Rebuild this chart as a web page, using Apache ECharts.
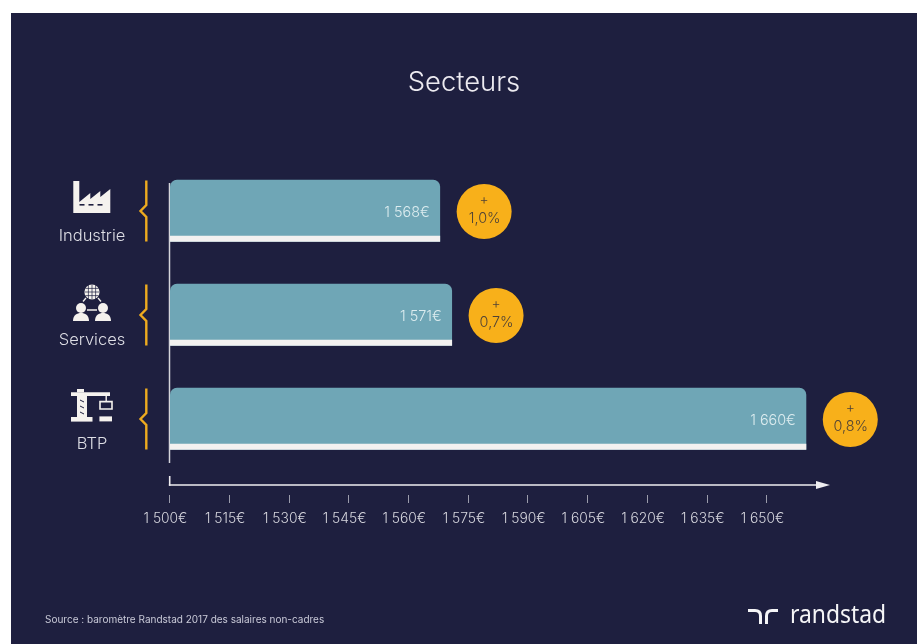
<!DOCTYPE html>
<html><head><meta charset="utf-8">
<style>
html,body{margin:0;padding:0;background:#fff;width:917px;height:644px;overflow:hidden}
#bg{position:absolute;left:11px;top:13px;width:906px;height:631px;background:#1e1f3f}
#c{position:absolute;left:0;top:0;width:917px;height:644px}
</style>
<script src="https://cdn.jsdelivr.net/npm/echarts@6/dist/echarts.min.js"></script>
</head><body><div id="bg"></div><div id="c"></div>
<script>
const categories = ['Industrie', 'Services', 'BTP'];
const salaries = [1568, 1571, 1660];
const growth = ['1,0%', '0,7%', '0,8%'];
const tickValues = [1500, 1515, 1530, 1545, 1560, 1575, 1590, 1605, 1620, 1635, 1650];

const FONT = 'Inter, "Noto Sans", sans-serif';
const NAVY = '#1e1f3f', TEAL = '#6fa6b6', BASE = '#f3f1f0', GOLD = '#f8b01a', ICON = '#f5f2ee';
const euro = v => { const s = String(v); return s.slice(0, 1) + ' ' + s.slice(1) + '€'; };

const r = (x, y, w, h, fill) => ({ type: 'rect', shape: { x, y, width: w, height: h }, style: { fill: fill || ICON } });
const c = (cx, cy, rad, style) => ({ type: 'circle', shape: { cx, cy, r: rad }, style: style || { fill: ICON } });
const p = (d, x, y, w, h, style) => ({ type: 'path', shape: { pathData: d, x, y, width: w, height: h }, style: style || { fill: ICON } });
const l = (x1, y1, x2, y2, col, w) => ({ type: 'line', shape: { x1, y1, x2, y2 }, style: { stroke: col || ICON, lineWidth: w || 1 } });

const factoryIcon = () => [
  p('M0 0 H6 V21 L17 12 V18 L27 10 V16 L37 8 V32 H0 Z', -18.7, -30, 37, 32),
  r(-12.5, -7, 5, 1.6, NAVY), r(-3.5, -7, 5, 1.6, NAVY), r(5.5, -7, 5, 1.6, NAVY)
];
const person = cx => [
  c(cx, -7, 5),
  p('M0 8 C0 2 4 0 8 0 C12 0 16 2 16 8 Z', cx - 8, -2, 16, 8)
];
const servicesIcon = () => [
  c(0, -23, 7.6),
  l(-7.4, -23, 7.4, -23, NAVY, 0.7), l(-6.6, -26.6, 6.6, -26.6, NAVY, 0.7), l(-6.6, -19.4, 6.6, -19.4, NAVY, 0.7),
  l(0, -30.4, 0, -15.6, NAVY, 0.7), l(-3.6, -30, -3.6, -16, NAVY, 0.7), l(3.6, -30, 3.6, -16, NAVY, 0.7),
  l(-5, -5, 5, -5, ICON, 1.5),
  l(-6, -17, -9, -13.5, ICON, 1.3), l(6, -17, 9, -13.5, ICON, 1.3),
  ...person(-11), ...person(11)
];
const btpIcon = () => [
  r(-15, -30, 7, 3.4),
  r(-21, -26.8, 39, 3.8),
  r(-15, -23, 10, 21),
  l(-12, -19, -8, -17, NAVY, 1), l(-12, -13, -8, -11, NAVY, 1), l(-12, -7, -8, -5, NAVY, 1),
  r(-21, -2, 21.5, 4.6),
  r(13.5, -23, 1.4, 6),
  { type: 'rect', shape: { x: 8, y: -17.4, width: 12, height: 7.4 }, style: { fill: 'none', stroke: ICON, lineWidth: 1.6 } },
  r(7.4, -2.6, 12.6, 5)
];
const icons = { Industrie: factoryIcon, Services: servicesIcon, BTP: btpIcon };

function renderBar(params, api) {
  const i = params.dataIndex;
  const end = api.coord([api.value(0), i]);
  const start = api.coord([1500, i]);
  const h = api.size([0, 1])[1] * 0.596;
  const top = end[1] - h / 2 - 0.2;
  const x0 = start[0] + 0.5, w = end[0] - x0;
  const cx = end[0] + 44;
  return {
    type: 'group',
    children: [
      { type: 'rect', shape: { x: x0, y: top, width: w, height: h, r: [7, 7, 0, 0] }, style: { fill: TEAL } },
      { type: 'rect', shape: { x: x0, y: top + h - 6, width: w, height: 6 }, style: { fill: BASE } },
      { type: 'text', x: end[0] - 10.5, y: end[1] + 1.5, style: { text: euro(api.value(0)), fill: '#dcecef', font: '300 14.4px ' + FONT, textAlign: 'right', textVerticalAlign: 'middle' } },
      { type: 'circle', shape: { cx, cy: end[1] + 0.5, r: 27.5 }, style: { fill: GOLD } },
      { type: 'text', x: cx, y: end[1] - 11, style: { text: '+', fill: '#4f4236', font: '300 14px ' + FONT, textAlign: 'center', textVerticalAlign: 'middle' } },
      { type: 'text', x: cx + 0.5, y: end[1] + 7.5, style: { text: growth[i], fill: '#4f4236', font: '300 14.4px ' + FONT, textAlign: 'center', textVerticalAlign: 'middle' } }
    ]
  };
}
function renderIcon(params, api) {
  const i = params.dataIndex;
  const pt = api.coord([1500, i]);
  return {
    type: 'group',
    children: [
      { type: 'group', x: pt[0] - 77.5, y: pt[1], children: icons[categories[i]]() },
      { type: 'polyline', x: pt[0], y: pt[1], shape: { points: [[-23.2, -30.5], [-23.2, -6], [-29, 0], [-23.2, 6], [-23.2, 30.5]] }, style: { fill: 'none', stroke: '#eeab1f', lineWidth: 2.4 } }
    ]
  };
}

const logoStyle = { fill: 'none', stroke: '#f5f5f7', lineWidth: 3 };
const chart = echarts.init(document.getElementById('c'), null, { renderer: 'canvas' });
const gLeft = 169.5, gTop = 159, gBottom = 471;
chart.setOption({
  animation: false,
  backgroundColor: 'transparent',
  grid: { left: gLeft, top: gTop, right: 94, bottom: 644 - gBottom, containLabel: false },
  xAxis: [
    { type: 'value', min: 1500, max: 1664.2, interval: 15, position: 'bottom', offset: 24, splitLine: { show: false },
      axisLine: { show: false },
      axisTick: { show: true, length: 8, lineStyle: { color: '#9b9cab', width: 1 }, customValues: tickValues },
      axisLabel: { margin: 17, color: '#d6d6de', fontFamily: FONT, fontWeight: 300, fontSize: 13.8, padding: [0, 8, 0, 0], customValues: tickValues, formatter: euro } },
    { type: 'value', min: 1500, max: 1664.2, interval: 15, position: 'bottom', offset: 14, splitLine: { show: false },
      axisLine: { show: true, symbol: ['none', 'triangle'], symbolSize: [8, 14], lineStyle: { color: '#eeedf0', width: 1.6 } },
      axisTick: { show: false }, axisLabel: { show: false } }
  ],
  yAxis: { type: 'category', data: categories, inverse: true, axisLine: { show: false }, axisTick: { show: false }, splitLine: { show: false },
    axisLabel: { margin: 77.5, align: 'center', verticalAlign: 'top', color: '#dfdfe6', fontFamily: FONT, fontWeight: 300, fontSize: 16.5, padding: [17, 0, 0, 0] } },
  series: [
    { type: 'custom', coordinateSystem: 'cartesian2d', xAxisIndex: 0, clip: false, renderItem: renderBar, encode: { x: 0, y: 1 },
      data: salaries.map((v, i) => [v, i]) },
    { type: 'custom', coordinateSystem: 'cartesian2d', xAxisIndex: 0, clip: false, renderItem: renderIcon, encode: { x: 0, y: 1 },
      data: salaries.map((v, i) => [v, i]), silent: true }
  ],
  graphic: [
    { type: 'text', x: 464, y: 83, style: { text: 'Secteurs', fill: '#eceaf0', font: '300 27.4px ' + FONT, textAlign: 'center', textVerticalAlign: 'middle' } },
    { type: 'line', shape: { x1: 169.5, y1: 183, x2: 169.5, y2: 463 }, style: { stroke: '#d4d4da', lineWidth: 1.5 } },
    { type: 'line', shape: { x1: 169.7, y1: 476, x2: 169.7, y2: 485.8 }, style: { stroke: '#eeedf0', lineWidth: 1.6 } },
    { type: 'text', x: 45, y: 620, style: { text: 'Source : baromètre Randstad 2017 des salaires non-cadres', fill: '#c9cad8', font: '400 10px ' + FONT, textVerticalAlign: 'middle' } },
    { type: 'line', shape: { x1: 748, y1: 610.5, x2: 755, y2: 610.5 }, style: logoStyle },
    { type: 'bezierCurve', shape: { x1: 755, y1: 610.5, cpx1: 760.5, cpy1: 610.5, x2: 760.5, y2: 616 }, style: logoStyle },
    { type: 'line', shape: { x1: 760.5, y1: 616, x2: 760.5, y2: 624 }, style: logoStyle },
    { type: 'line', shape: { x1: 766.5, y1: 624, x2: 766.5, y2: 616 }, style: logoStyle },
    { type: 'bezierCurve', shape: { x1: 766.5, y1: 616, cpx1: 766.5, cpy1: 610.5, x2: 772, y2: 610.5 }, style: logoStyle },
    { type: 'line', shape: { x1: 772, y1: 610.5, x2: 778, y2: 610.5 }, style: logoStyle },
    { type: 'text', x: 790, y: 615.5, scaleX: 0.88, style: { text: 'randstad', fill: '#f5f5f7', font: '400 26px "Noto Sans", sans-serif', textVerticalAlign: 'middle' } }
  ]
});
</script></body></html>
